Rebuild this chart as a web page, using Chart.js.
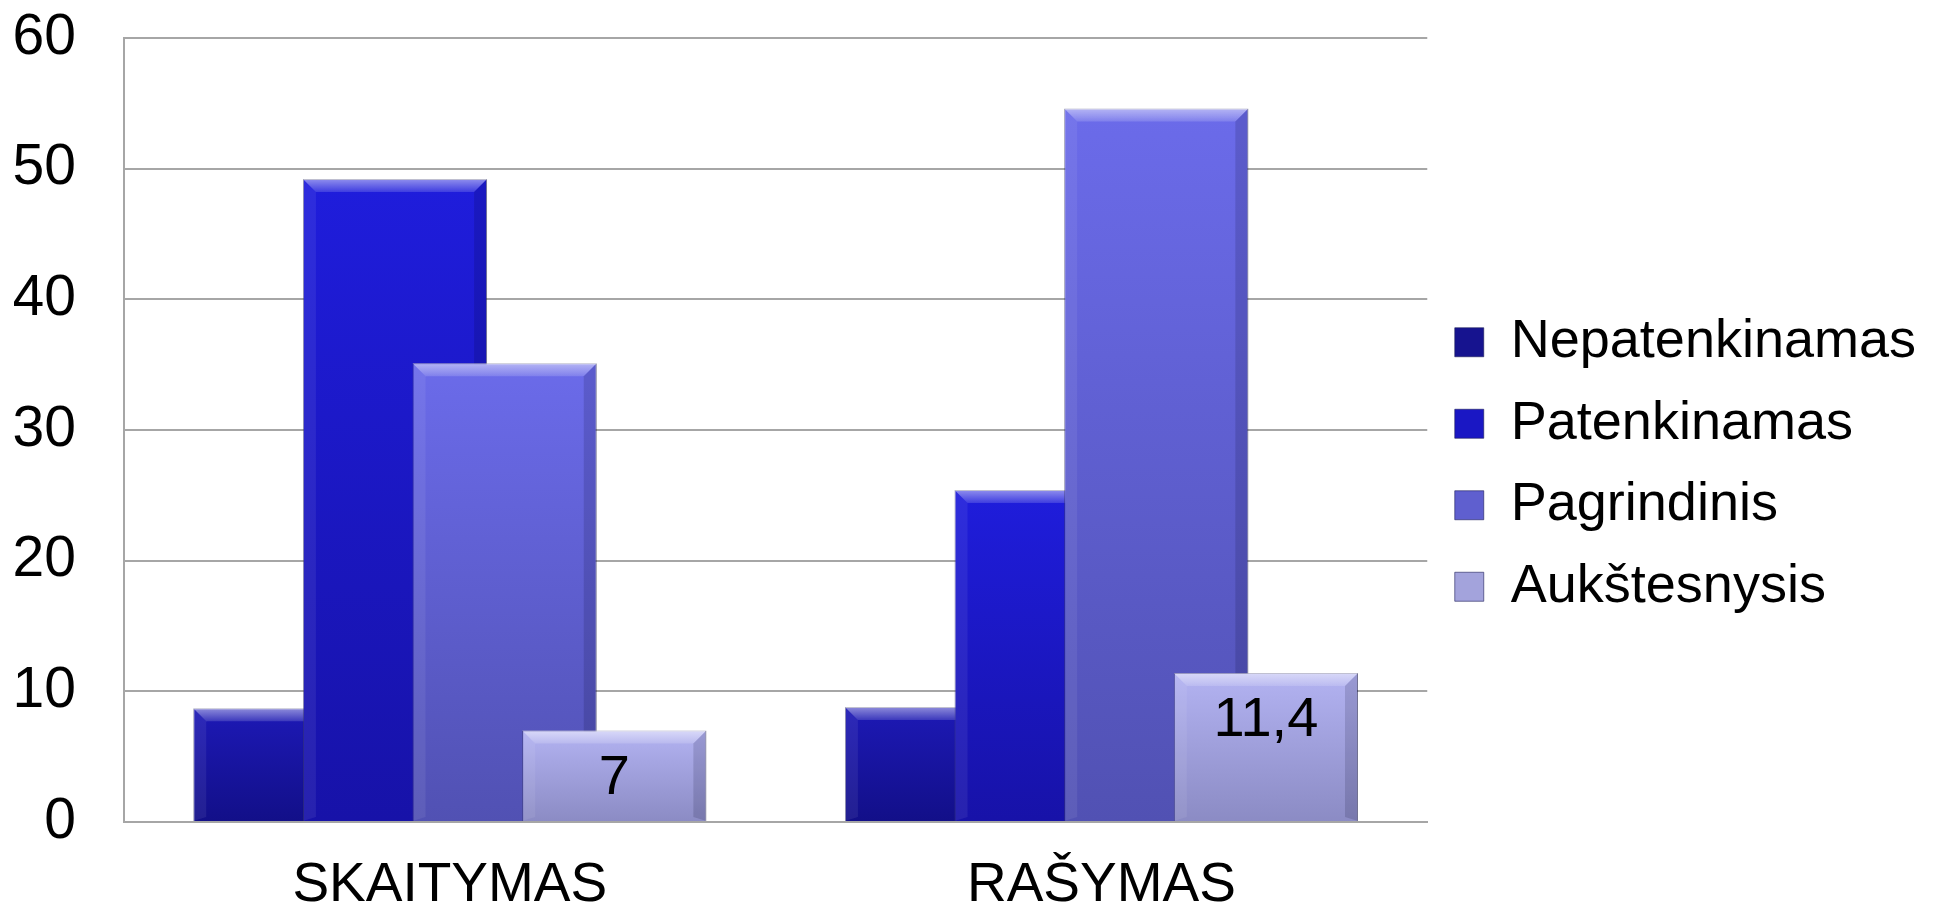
<!DOCTYPE html>
<html>
<head>
<meta charset="utf-8">
<script src="https://cdn.jsdelivr.net/npm/chart.js@4/dist/chart.umd.min.js"></script>
<style>
	html, body { margin: 0; padding: 0; background: #fff; }
	#wrap { width: 1935px; height: 915px; position: relative; }
</style>
</head>
<body>
<div id="wrap"><canvas id="chart"></canvas></div>
<script>
const categories = ["SKAITYMAS", "RAŠYMAS"];
const seriesNames = ["Nepatenkinamas", "Patenkinamas", "Pagrindinis", "Aukštesnysis"];
const nepatenkinamas = [8.7, 8.8];
const patenkinamas = [49.2, 25.4];
const pagrindinis = [35.1, 54.6];
const aukstesnysis = [7, 11.4];
const yTicks = [0, 10, 20, 30, 40, 50, 60];

// top / bottom colour of each series
const topColors = ["#1d19b6", "#1f1ddc", "#6b6bea", "#b3b3f2"];
const bottomColors = ["#120f88", "#1712a8", "#5151b3", "#8b8bc4"];
const legendColors = ["#16138f", "#1a17c4", "#5f5fcf", "#a3a3dc"];

const FONT = "'Liberation Sans', Arial, Helvetica, sans-serif";

function barFill(i){
	return (ctx) => {
		const chart = ctx.chart;
		const y = chart.scales.y;
		if(!y || ctx.raw == null){
			return topColors[i];
		}
		const t = y.getPixelForValue(ctx.raw);
		const b = y.getPixelForValue(0);
		const g = chart.ctx.createLinearGradient(0, t, 0, b);
		g.addColorStop(0, topColors[i]);
		g.addColorStop(1, bottomColors[i]);
		return g;
	};
}

function bevel(ctx, el){
	const l = el.x - el.width / 2;
	const r = el.x + el.width / 2;
	const t = el.y;
	const b = el.base;
	const d = 13;

	ctx.save();
	let g = ctx.createLinearGradient(0, t, 0, t + d);
	g.addColorStop(0, "rgba(255,255,255,0.5)");
	g.addColorStop(1, "rgba(255,255,255,0.14)");
	ctx.fillStyle = g;
	ctx.beginPath();
	ctx.moveTo(l, t);
	ctx.lineTo(r, t);
	ctx.lineTo(r - d, t + d);
	ctx.lineTo(l + d, t + d);
	ctx.closePath();
	ctx.fill();

	ctx.fillStyle = "rgba(255,255,255,0.07)";
	ctx.beginPath();
	ctx.moveTo(l, t);
	ctx.lineTo(l + d, t + d);
	ctx.lineTo(l + d, b - 4);
	ctx.lineTo(l, b);
	ctx.closePath();
	ctx.fill();

	ctx.fillStyle = "rgba(0,0,30,0.14)";
	ctx.beginPath();
	ctx.moveTo(r, t);
	ctx.lineTo(r - d, t + d);
	ctx.lineTo(r - d, b - 4);
	ctx.lineTo(r, b);
	ctx.closePath();
	ctx.fill();
	ctx.restore();
}

// draw datasets left-to-right so each bar lies over the one before it
const layeredBars = {
	id: "layeredBars",
	beforeDatasetsDraw(chart){
		const ctx = chart.ctx;
		const area = chart.chartArea;
		ctx.save();
		ctx.beginPath();
		ctx.rect(area.left, area.top - 2, area.right - area.left, area.bottom - area.top + 2);
		ctx.clip();
		chart.data.datasets.forEach((ds, i) => {
			const meta = chart.getDatasetMeta(i);
			meta.controller.draw();
			meta.data.forEach((el) => bevel(ctx, el));
		});
		ctx.restore();

		// value labels on the last series only
		const meta = chart.getDatasetMeta(3);
		ctx.save();
		ctx.fillStyle = "#000";
		ctx.font = "56px " + FONT;
		ctx.textAlign = "center";
		ctx.textBaseline = "middle";
		meta.data.forEach((el, j) => {
			const v = chart.data.datasets[3].data[j];
			ctx.fillText(String(v).replace(".", ","), el.x, el.y + 48);
		});
		ctx.restore();
		return false;
	}
};

const values = [nepatenkinamas, patenkinamas, pagrindinis, aukstesnysis];

const chart = new Chart(document.getElementById("chart"), {
	type: "bar",
	data: {
		labels: categories,
		datasets: seriesNames.map((name, i) => ({
			label: name,
			data: values[i],
			backgroundColor: barFill(i),
			borderColor: "rgba(30,30,90,0.55)",
			borderWidth: 1,
			barPercentage: 1.68,
			categoryPercentage: 0.673,
		})),
	},
	options: {
		responsive: true,
		maintainAspectRatio: false,
		devicePixelRatio: 1,
		animation: false,
		events: [],
		layout: {
			padding: { top: 14, left: 14, right: 9, bottom: 0 }
		},
		scales: {
			x: {
				grid: { display: false, drawTicks: false },
				border: { display: true, color: "#a6a6a6", width: 2 },
				ticks: {
					color: "#000",
					padding: 36,
					font: { family: FONT, size: 55, lineHeight: 1 }
				},
				afterFit(scale){
					scale.height = 93;
				}
			},
			y: {
				min: 0,
				max: 60,
				afterBuildTicks(scale){
					scale.ticks = yTicks.map((v) => ({ value: v }));
				},
				grid: { color: "#a6a6a6", lineWidth: 2, drawTicks: false },
				border: { display: true, color: "#a6a6a6", width: 2 },
				ticks: {
					color: "#000",
					padding: 48,
					font: { family: FONT, size: 57 }
				},
				afterFit(scale){
					scale.width = 110;
					scale.paddingTop = 38;
					scale.paddingBottom = 34;
				}
			}
		},
		plugins: {
			tooltip: { enabled: false },
			legend: {
				position: "right",
				maxWidth: 560,
				labels: {
					color: "#000",
					boxWidth: 29,
					boxHeight: 29,
					padding: 27.5,
					font: { family: FONT, size: 54 },
					generateLabels(chart){
						return chart.data.datasets.map((ds, i) => ({
							text: ds.label,
							fillStyle: legendColors[i],
							strokeStyle: "rgba(30,30,90,0.6)",
							lineWidth: 1,
							hidden: false,
							datasetIndex: i,
						}));
					}
				}
			}
		}
	},
	plugins: [layeredBars]
});
</script>
</body>
</html>
